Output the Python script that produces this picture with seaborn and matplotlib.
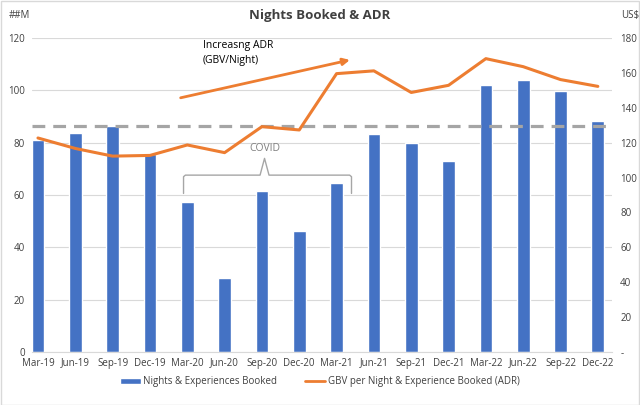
import pandas as pd
import numpy as np
import seaborn as sns
import matplotlib.pyplot as plt
from matplotlib.lines import Line2D
from matplotlib.patches import Patch

quarters = ["Mar-19", "Jun-19", "Sep-19", "Dec-19", "Mar-20", "Jun-20", "Sep-20", "Dec-20",
            "Mar-21", "Jun-21", "Sep-21", "Dec-21", "Mar-22", "Jun-22", "Sep-22", "Dec-22"]
nights = [81.0, 83.8, 86.2, 75.7, 57.2, 28.2, 61.5, 46.2,
          64.5, 83.2, 79.7, 73.1, 102.0, 103.8, 99.7, 88.2]
adr = [122.7, 116.7, 112.3, 112.7, 118.7, 114.3, 129.2, 127.3,
       159.6, 161.2, 148.8, 152.9, 168.2, 163.6, 156.2, 152.3]
ref_level = 86.5  # dashed grey line, left axis

blue = "#4472C4"
orange = "#ED7D31"
grey = "#A5A5A5"

df = pd.DataFrame({"quarter": quarters, "nights": nights, "adr": adr})

sns.set_style("white")
plt.rcParams["font.family"] = ["Open Sans", "DejaVu Sans"]

fig = plt.figure(figsize=(6.4, 4.05), dpi=100)
ax = fig.add_axes([0.05, 0.131, 0.906, 0.775])
xl = (-0.16, 15.375)

sns.barplot(data=df, x="quarter", y="nights", color=blue, width=0.34,
            saturation=1, ax=ax, zorder=2)
ax.set_ylim(0, 120)
ax.set_yticks(range(0, 121, 20))
ax.set_xlim(*xl)
ax.grid(axis="y", color="#D9D9D9", linewidth=0.8, zorder=0)
ax.set_axisbelow(True)
ax.axhline(ref_level, color=grey, linestyle=(0, (4, 2.5)), linewidth=2.3, zorder=3)

ax2 = ax.twinx()
sns.lineplot(data=df, x="quarter", y="adr", color=orange, linewidth=2.2,
             sort=False, ax=ax2, zorder=4)
ax2.set_ylim(0, 180)
ax2.set_yticks(range(0, 181, 20))
ax2.set_yticklabels(["-"] + [str(v) for v in range(20, 181, 20)])
ax2.set_xlim(*xl)

for a in (ax, ax2):
    a.set_xlabel("")
    a.set_ylabel("")
    for s in a.spines.values():
        s.set_visible(False)
    a.tick_params(length=0, labelsize=7, colors="#404040")
ax.spines["bottom"].set_visible(True)
ax.spines["bottom"].set_color("#D9D9D9")
ax.tick_params(axis="y", pad=5)
ax2.tick_params(axis="y", pad=6)
ax.tick_params(axis="x", pad=4)

# annotations
ax2.annotate("", xy=(8.43, 167.8), xytext=(3.75, 145.4),
             arrowprops=dict(arrowstyle="-|>", color=orange, lw=2, mutation_scale=10))
ax2.text(4.42, 171.7, "Increasng ADR\n(GBV/Night)", fontsize=7.5, color="black",
         va="center", ha="left", linespacing=1.5)

bx = [3.9, 3.9, 3.95, 5.95, 6.07, 6.19, 8.35, 8.4, 8.4]
by = [60.6, 67.0, 67.6, 67.6, 74.0, 67.6, 67.6, 67.0, 60.6]
ax.plot(bx, by, color="#A6A6A6", linewidth=1, zorder=3)
ax.text(6.07, 77.6, "COVID", fontsize=7.5, color="#7F7F7F", ha="center", va="center")

fig.text(0.5, 0.962, "Nights Booked & ADR", ha="center", va="center",
         fontsize=9.5, fontweight="bold", color="#404040")
fig.text(0.014, 0.962, "##M", ha="left", va="center", fontsize=7, color="#404040")
fig.text(0.97, 0.962, "US$", ha="left", va="center", fontsize=7, color="#404040")

handles = [Patch(facecolor=blue), Line2D([], [], color=orange, linewidth=2)]
labels = ["Nights & Experiences Booked", "GBV per Night & Experience Booked (ADR)"]
fig.legend(handles, labels, loc="center", bbox_to_anchor=(0.5, 0.057), ncol=2,
           frameon=False, fontsize=7, handlelength=2.1, handleheight=0.55,
           handletextpad=0.3, columnspacing=2.8, labelcolor="#404040")

fig.patches.append(plt.Rectangle((0.001, 0.001), 0.997, 0.996, transform=fig.transFigure,
                                 fill=False, edgecolor="#D9D9D9", linewidth=1))

fig.savefig("out.png", dpi=100)
